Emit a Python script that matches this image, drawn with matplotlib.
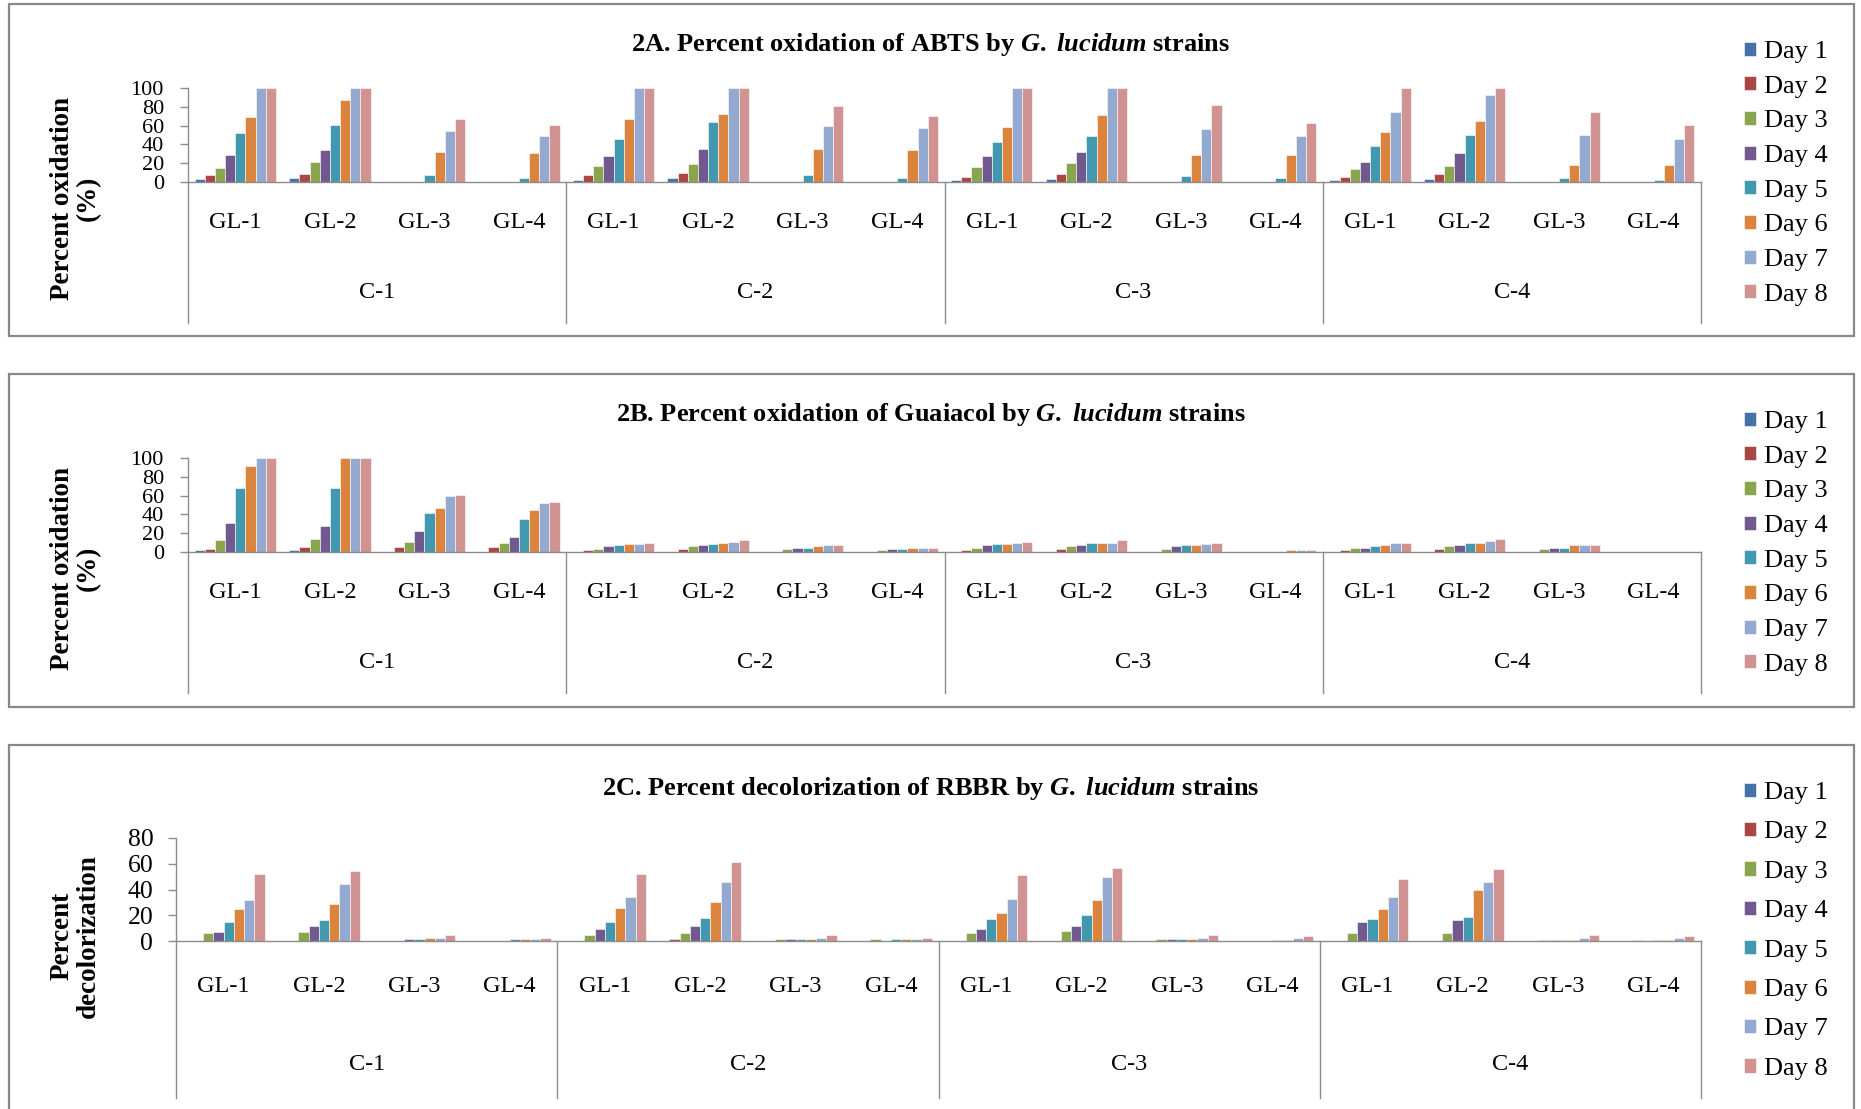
import matplotlib
matplotlib.use("Agg")
import matplotlib.pyplot as plt
from matplotlib.patches import Rectangle
from matplotlib.transforms import blended_transform_factory
from matplotlib.lines import Line2D

plt.rcParams['font.family'] = ['Liberation Serif', 'DejaVu Serif']
plt.rcParams['mathtext.fontset'] = 'custom'
plt.rcParams['mathtext.rm'] = 'Liberation Serif:bold'
plt.rcParams['mathtext.it'] = 'Liberation Serif:italic:bold'
plt.rcParams['mathtext.bf'] = 'Liberation Serif:bold'

# ---------------- data ----------------
days = ["Day 1", "Day 2", "Day 3", "Day 4", "Day 5", "Day 6", "Day 7", "Day 8"]
strains = ["GL-1", "GL-2", "GL-3", "GL-4"]
conditions = ["C-1", "C-2", "C-3", "C-4"]
colors = ["#4572A7", "#AA4643", "#89A54E", "#71588F",
          "#4198AF", "#DB843D", "#93A9CF", "#D19392"]

# each row: one day; 16 values ordered C-1 GL-1..GL-4, C-2 ..., C-4
abts_values = [
    [3, 4, 0, 0, 2, 4, 0, 0, 2, 3, 0, 0, 2, 3, 0, 0],
    [7, 8, 0, 0, 7, 10, 0, 0, 5, 9, 0, 0, 5, 9, 0, 0],
    [15, 21, 0, 0, 17, 19, 0, 0, 16, 20, 0, 0, 14, 17, 0, 0],
    [29, 34, 0, 0, 28, 35, 0, 0, 28, 32, 0, 0, 21, 31, 0, 0],
    [52, 61, 7, 4, 46, 64, 7, 4, 43, 49, 6, 4, 38, 50, 4, 2],
    [69, 87, 32, 31, 67, 72, 35, 34, 58, 71, 29, 29, 53, 65, 18, 18],
    [100, 100, 54, 49, 100, 100, 60, 57, 100, 100, 56, 49, 75, 93, 50, 46],
    [100, 100, 67, 61, 100, 100, 81, 70, 100, 100, 82, 63, 100, 100, 74, 61],
]
guaiacol_values = [
    [2, 2, 0, 0, 0, 0, 0, 0, 0, 0, 0, 0, 0, 0, 0, 0],
    [3, 5, 5, 5, 2, 3, 0, 0, 2, 3, 0, 0, 2, 3, 0, 0],
    [13, 14, 11, 10, 3, 6, 3, 2, 4, 6, 3, 0, 4, 6, 3, 0],
    [31, 28, 22, 16, 6, 7, 4, 3, 7, 7, 6, 0, 4, 7, 4, 0],
    [68, 68, 41, 35, 7, 8, 4, 3, 8, 10, 7, 0, 6, 10, 4, 0],
    [92, 100, 47, 45, 8, 10, 6, 4, 8, 10, 7, 2, 7, 10, 7, 0],
    [100, 100, 60, 52, 8, 11, 7, 4, 10, 10, 9, 2, 10, 12, 7, 0],
    [100, 100, 61, 53, 10, 13, 7, 4, 11, 13, 10, 2, 10, 14, 7, 0],
]
rbbr_values = [
    [0, 0, 0, 0, 0, 0, 0, 0, 0, 0, 0, 0, 0, 0, 0, 0],
    [0, 0, 0, 0, 0, 1.5, 0, 0, 0, 0, 0, 0, 0, 0, 0, 0],
    [6, 7, 0, 0, 5, 6, 1.5, 1.5, 6, 8, 1.5, 0, 6.5, 6.5, 1, 1],
    [7, 11.5, 1.5, 0, 9.5, 11.5, 1.5, 0, 9, 12, 1.5, 0, 14.5, 16, 1, 0],
    [15, 16, 1.5, 1.5, 15, 18, 1.5, 1.5, 17, 20, 1.5, 1, 17, 19, 1, 1],
    [25, 29, 2.5, 1.5, 26, 30, 1.5, 1.5, 22, 32, 1.5, 1, 25, 40, 1, 1],
    [32, 44, 2.5, 1.5, 34.5, 45.5, 2.5, 1.5, 33, 50, 2, 2, 34, 46, 2, 2],
    [52, 54, 5, 2.5, 52, 61, 5, 2.5, 51, 57, 4.5, 3.5, 48, 56, 4.5, 3.5],
]

titles = [
    r"2A. Percent oxidation of ABTS by $\mathit{G.}$ $\mathit{lucidum}$ strains",
    r"2B. Percent oxidation of Guaiacol by $\mathit{G.}$ $\mathit{lucidum}$ strains",
    r"2C. Percent decolorization of RBBR by $\mathit{G.}$ $\mathit{lucidum}$ strains",
]
ylabels = ["Percent oxidation\n(%)", "Percent oxidation\n(%)", "Percent\ndecolorization"]
yticks_list = [[0, 20, 40, 60, 80, 100], [0, 20, 40, 60, 80, 100], [0, 20, 40, 60, 80]]

# ---------------- layout (pixel coordinates, top-origin) ----------------
W, H = 1861, 1109
fig = plt.figure(figsize=(W / 100, H / 100), dpi=100)

panels = [
    dict(values=abts_values, box=(9, 4, 1854, 336), ax_lr=(188, 1701), y0=182, ytop=88, ymax=100,
         gl_off=41, c_off=111, line_bottom=323, title_y=44, ylab_y=198, leg_top=41, leg_sp=0.48,
         tick_fs=16, tick_pad=11.5),
    dict(values=guaiacol_values, box=(9, 374, 1854, 707), ax_lr=(188, 1701), y0=552, ytop=458, ymax=100,
         gl_off=41, c_off=111, line_bottom=693, title_y=414, ylab_y=568, leg_top=411, leg_sp=0.48,
         tick_fs=16, tick_pad=11.5),
    dict(values=rbbr_values, box=(9, 745, 1854, 1125), ax_lr=(176, 1701), y0=941, ytop=838, ymax=80,
         gl_off=46, c_off=124, line_bottom=1098, title_y=789, ylab_y=936, leg_top=782, leg_sp=0.66,
         tick_fs=18.5, tick_pad=10.5),
]

gray = "#8C8C8C"
n_days = len(days)
n_cat = len(strains) * len(conditions)
bar_w = 0.86 / n_days

for i, p in enumerate(panels):
    x0b, y0b, x1b, y1b = p["box"]
    fig.patches.append(Rectangle((x0b / W, 1 - y1b / H), (x1b - x0b) / W, (y1b - y0b) / H,
                                 transform=fig.transFigure, fill=False,
                                 edgecolor="#888888", linewidth=1.6, zorder=0))
    left, right = p["ax_lr"]
    bottom = 1 - p["y0"] / H
    top = 1 - p["ytop"] / H
    ax = fig.add_axes([left / W, bottom, (right - left) / W, top - bottom])

    cats = list(range(n_cat))
    for d in range(n_days):
        xs = [c - 0.43 + bar_w * (d + 0.5) for c in cats]
        ax.bar(xs, p["values"][d], width=bar_w, color=colors[d],
               edgecolor="white", linewidth=0.4, label=days[d], zorder=2)

    ax.set_xlim(-0.5, n_cat - 0.5)
    ax.set_ylim(0, p["ymax"])
    ax.set_yticks(yticks_list[i])
    ax.tick_params(axis="y", direction="out", length=5.8, width=1, color=gray,
                   labelsize=p["tick_fs"], pad=p["tick_pad"])
    ax.set_xticks([])
    for s in ["top", "right"]:
        ax.spines[s].set_visible(False)
    ax.spines["left"].set_visible(False)
    ax.spines["bottom"].set_color(gray)
    ax.spines["bottom"].set_linewidth(1)
    ax.patch.set_alpha(0)

    # multi-level category axis
    trans = blended_transform_factory(ax.transData, fig.transFigure)
    for g in range(len(conditions) + 1):
        xg = g * len(strains) - 0.5
        ax.add_line(Line2D([xg, xg], [1 - p["line_bottom"] / H, bottom], transform=trans,
                           color=gray, linewidth=1, clip_on=False))
    ax.add_line(Line2D([-0.5, -0.5], [bottom, top], transform=trans,
                       color=gray, linewidth=1, clip_on=False))
    for c in cats:
        ax.text(c, 1 - (p["y0"] + p["gl_off"]) / H, strains[c % len(strains)],
                transform=trans, ha="center", va="center", fontsize=17.5)
    for g, cname in enumerate(conditions):
        ax.text(g * len(strains) + (len(strains) - 1) / 2, 1 - (p["y0"] + p["c_off"]) / H, cname,
                transform=trans, ha="center", va="center", fontsize=17.5)

    fig.text(0.5, 1 - p["title_y"] / H, titles[i], ha="center", va="center",
             fontsize=19, fontweight="bold")
    fig.text(75 / W, 1 - p["ylab_y"] / H, ylabels[i], rotation=90, ha="center", va="center",
             fontsize=19.5, fontweight="bold", linespacing=1.05, multialignment="center")

    handles, labels = ax.get_legend_handles_labels()
    fig.legend(handles, labels, loc="upper left",
               bbox_to_anchor=(1744 / W, 1 - p["leg_top"] / H),
               frameon=False, fontsize=19, handlelength=0.45, handleheight=0.45,
               handletextpad=0.3, labelspacing=p["leg_sp"], borderpad=0, borderaxespad=0)

fig.savefig("out.png", dpi=100)
